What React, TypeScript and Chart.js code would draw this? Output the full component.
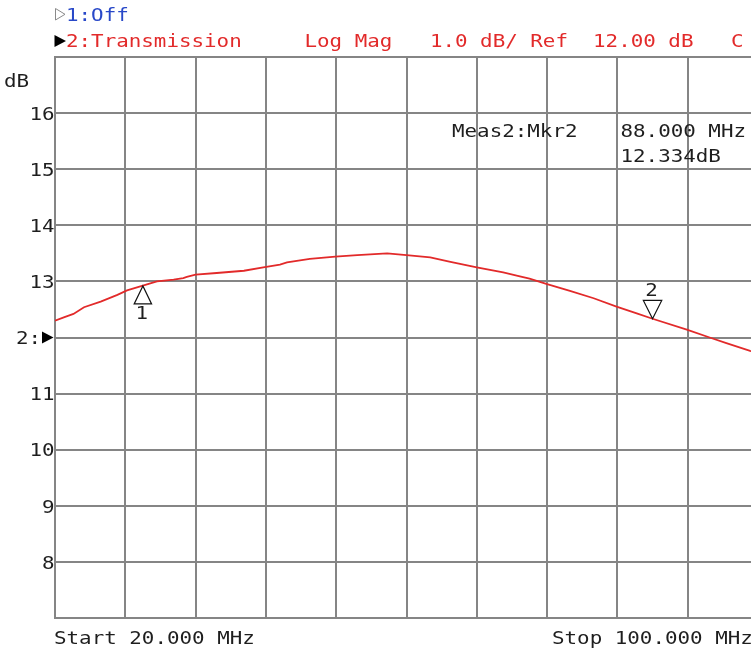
import React, { useEffect, useRef } from "react";
import { Chart, registerables } from "chart.js";

Chart.register(...registerables);

// ---- data ----
const freqMHz = [
  20.0, 21.0, 22.1, 23.3, 25.2, 27.1, 28.2, 29.9, 31.6, 33.5, 34.6, 35.0, 36.0,
  38.4, 41.5, 43.7, 45.6, 46.4, 49.0, 51.9, 54.4, 57.8, 60.0, 62.7, 65.0, 68.0,
  71.0, 72.9, 74.0, 76.0, 78.6, 81.3, 83.9, 86.2, 88.0, 91.9, 94.5, 96.4, 99.1,
  100.0,
];
const transmissionDb = [
  12.3, 12.36, 12.42, 12.54, 12.64, 12.76, 12.84, 12.92, 13.0, 13.03, 13.06,
  13.08, 13.12, 13.15, 13.19, 13.25, 13.3, 13.34, 13.4, 13.44, 13.47, 13.5,
  13.47, 13.43, 13.35, 13.25, 13.16, 13.09, 13.05, 12.95, 12.83, 12.7, 12.55,
  12.43, 12.334, 12.14, 12.0, 11.9, 11.76, 11.73,
];
const markerNames = ["1", "2"];
const markerFreqs = [30, 88];
const markerValues = [12.92, 12.334];
const yTickValues = [16, 15, 14, 13, 11, 10, 9, 8];
const yTickLabels = ["16", "15", "14", "13", "11", "10", "9", "8"];
const refLevel = 12;
const refLabel = "2:";
const startLabel = "Start 20.000 MHz";
const stopLabel = "Stop 100.000 MHz";
const trace1Label = "1:Off";
const trace2Header = "2:Transmission     Log Mag   1.0 dB/ Ref  12.00 dB   C";
const unitLabel = "dB";
const readoutName = "Meas2:Mkr2";
const readoutFreq = "88.000 MHz";
const readoutValue = "12.334dB";

const FONT = '18px "DejaVu Sans Mono"';
const SX = 1.158;
const RED = "#e22a2a";
const BLUE = "#2848c8";
const INK = "#1e1e1e";
const GRID = "#858585";

function txt(
  ctx: CanvasRenderingContext2D,
  s: string,
  x: number,
  y: number,
  color: string,
  align: CanvasTextAlign = "left"
) {
  ctx.save();
  ctx.translate(x, y);
  ctx.scale(SX, 1);
  ctx.font = FONT;
  ctx.textAlign = align;
  ctx.textBaseline = "alphabetic";
  ctx.fillStyle = color;
  ctx.fillText(s, 0, 0);
  ctx.restore();
}

const overlay = {
  id: "overlay",
  afterDraw(chart: any) {
    const ctx: CanvasRenderingContext2D = chart.ctx;
    const xs = chart.scales.x;
    const ys = chart.scales.y;

    // header line 1
    ctx.save();
    ctx.strokeStyle = "#8a8a8a";
    ctx.lineWidth = 1;
    ctx.beginPath();
    ctx.moveTo(55.5, 8.5);
    ctx.lineTo(65, 14.3);
    ctx.lineTo(55.5, 20);
    ctx.closePath();
    ctx.stroke();
    ctx.fillStyle = "#000";
    ctx.beginPath();
    ctx.moveTo(54.5, 35);
    ctx.lineTo(66, 41);
    ctx.lineTo(54.5, 47);
    ctx.closePath();
    ctx.fill();
    ctx.restore();
    txt(ctx, trace1Label, 66, 21, BLUE);
    txt(ctx, trace2Header, 66, 47, RED);

    // y unit + ticks
    txt(ctx, unitLabel, 4, 87, INK);
    yTickValues.forEach((v, i) => {
      const py = ys.getPixelForValue(v);
      txt(ctx, yTickLabels[i], 54.5, py + 6.7, INK, "right");
    });
    const ry = ys.getPixelForValue(refLevel);
    txt(ctx, refLabel, 16, ry + 6.7, INK);
    ctx.save();
    ctx.fillStyle = "#000";
    ctx.beginPath();
    ctx.moveTo(42, ry - 6);
    ctx.lineTo(53.5, ry);
    ctx.lineTo(42, ry + 6);
    ctx.closePath();
    ctx.fill();
    ctx.restore();

    // bottom labels
    txt(ctx, startLabel, 54, 644.3, INK);
    txt(ctx, stopLabel, 552, 644.3, INK);

    // marker readout
    txt(ctx, readoutName, 452, 137, INK);
    txt(ctx, readoutFreq, 620.5, 137, INK);
    txt(ctx, readoutValue, 620.5, 162, INK);

    // markers
    ctx.save();
    ctx.strokeStyle = "#111";
    ctx.lineWidth = 1.2;
    markerFreqs.forEach((f, i) => {
      const px = xs.getPixelForValue(f);
      const py = ys.getPixelForValue(markerValues[i]);
      ctx.beginPath();
      if (i === 0) {
        ctx.moveTo(px, py);
        ctx.lineTo(px - 8.7, py + 18);
        ctx.lineTo(px + 8.7, py + 18);
      } else {
        ctx.moveTo(px, py);
        ctx.lineTo(px - 9.2, py - 18.3);
        ctx.lineTo(px + 9.2, py - 18.3);
      }
      ctx.closePath();
      ctx.stroke();
      if (i === 0) txt(ctx, markerNames[i], px - 1, py + 33, INK, "center");
      else txt(ctx, markerNames[i], px - 1, py - 22.6, INK, "center");
    });
    ctx.restore();
  },
};

export default function App() {
  const ref = useRef<HTMLCanvasElement>(null);
  useEffect(() => {
    if (!ref.current) return;
    const chart = new Chart(ref.current, {
      type: "line",
      data: {
        datasets: [
          {
            label: "Transmission",
            data: freqMHz.map((f, i) => ({ x: f, y: transmissionDb[i] })),
            borderColor: RED,
            borderWidth: 1.8,
            pointRadius: 0,
            tension: 0,
            fill: false,
          },
        ],
      },
      options: {
        responsive: false,
        animation: false,
        devicePixelRatio: 1,
        layout: { padding: { left: 55, top: 57, right: 2, bottom: 32 } },
        plugins: {
          legend: { display: false },
          tooltip: { enabled: false },
          title: { display: false },
        },
        scales: {
          x: {
            type: "linear",
            min: 20,
            max: 100,
            ticks: { display: false, stepSize: 8 },
            grid: { color: GRID, lineWidth: 2, drawTicks: false },
            border: { color: GRID, width: 2 },
          },
          y: {
            type: "linear",
            min: 7,
            max: 17,
            ticks: { display: false, stepSize: 1 },
            grid: { color: GRID, lineWidth: 2, drawTicks: false },
            border: { color: GRID, width: 2 },
          },
        },
      },
      plugins: [overlay],
    });
    return () => chart.destroy();
  }, []);
  return (
    <div
      style={{
        position: "fixed",
        left: 0,
        top: 0,
        width: 751,
        height: 650,
        overflow: "hidden",
        background: "#fff",
      }}
    >
      <canvas ref={ref} width={760} height={650} style={{ display: "block" }} />
    </div>
  );
}
